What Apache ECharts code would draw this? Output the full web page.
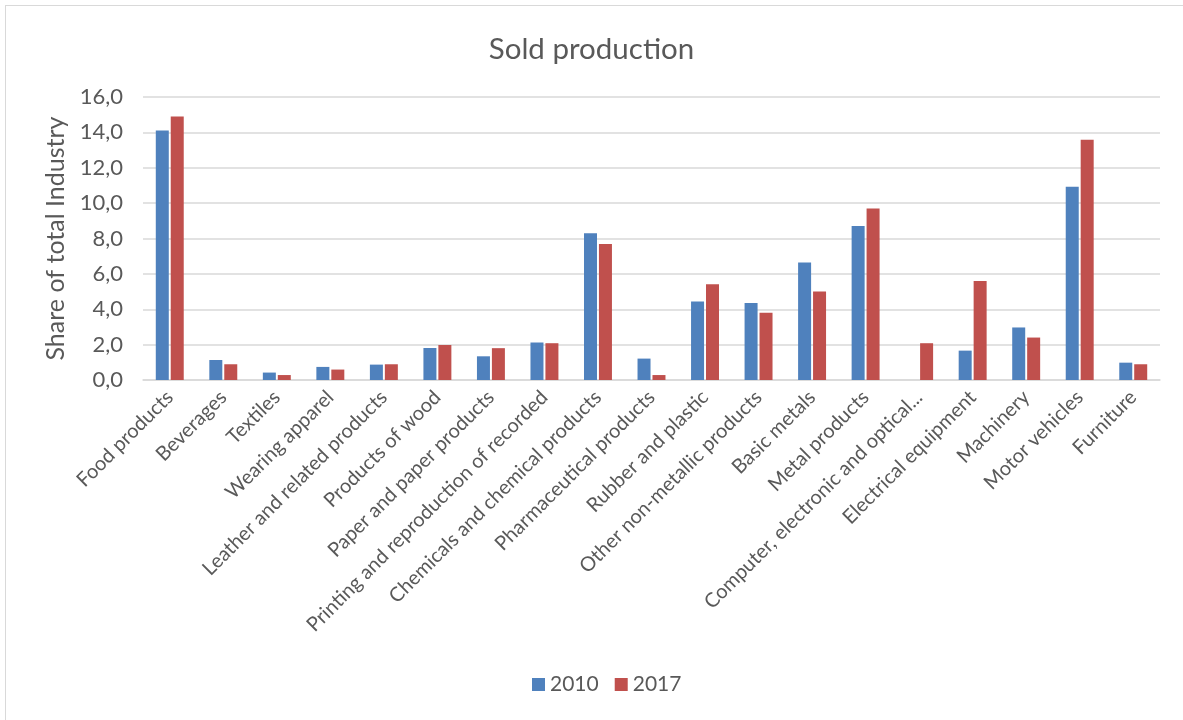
<!DOCTYPE html>
<html>
<head>
<meta charset="utf-8">
<script src="https://cdn.jsdelivr.net/npm/echarts@6/dist/echarts.min.js"></script>
<style>
  html, body { margin: 0; padding: 0; background: #fff; }
  #frame { position: absolute; left: 5px; top: 5px; width: 1200px; height: 730px; border: 1px solid #d9d9d9; box-sizing: border-box; }
  #chart { position: absolute; left: 0; top: 0; width: 1183px; height: 720px; }
</style>
</head>
<body>
<div id="frame"></div>
<div id="chart"></div>
<script>
const categories = [
  'Food products', 'Beverages', 'Textiles', 'Wearing apparel',
  'Leather and related products', 'Products of wood', 'Paper and paper products',
  'Printing and reproduction of recorded', 'Chemicals and chemical products',
  'Pharmaceutical products', 'Rubber and plastic', 'Other non-metallic products',
  'Basic metals', 'Metal products', 'Computer, electronic and optical...',
  'Electrical equipment', 'Machinery', 'Motor vehicles', 'Furniture'
];
const values2010 = [14.1, 1.13, 0.42, 0.74, 0.87, 1.81, 1.34, 2.12, 8.3, 1.21, 4.44, 4.35, 6.65, 8.71, null, 1.66, 2.97, 10.93, 0.98];
const values2017 = [14.9, 0.89, 0.28, 0.59, 0.89, 1.98, 1.8, 2.08, 7.69, 0.28, 5.41, 3.8, 5.01, 9.7, 2.08, 5.6, 2.4, 13.59, 0.89];

const font = 'Lato';
const grey = '#595959';

const chart = echarts.init(document.getElementById('chart'));
chart.setOption({
  animation: false,
  textStyle: { fontFamily: font },
  title: {
    text: 'Sold production',
    left: 'center',
    top: 29,
    textStyle: { fontFamily: font, fontSize: 29.5, fontWeight: 'normal', color: grey }
  },
  legend: {
    bottom: 20,
    left: 527,
    itemWidth: 13,
    itemHeight: 13,
    itemGap: 16,
    icon: 'rect',
    textStyle: { fontFamily: font, fontSize: 21, color: grey }
  },
  grid: { left: 143, right: 23, top: 97, bottom: 340 },
  xAxis: {
    type: 'category',
    data: categories,
    axisLine: { lineStyle: { color: '#d9d9d9', width: 1.5 } },
    axisTick: { show: false },
    axisLabel: {
      interval: 0,
      rotate: 45,
      margin: 14,
      fontFamily: font,
      fontSize: 20,
      color: grey
    }
  },
  yAxis: {
    type: 'value',
    min: 0,
    max: 16,
    interval: 2,
    name: 'Share of total Industry',
    nameLocation: 'middle',
    nameGap: 75,
    nameTextStyle: { fontFamily: font, fontSize: 25, color: grey },
    axisLine: { show: false },
    axisTick: { show: false },
    splitLine: { lineStyle: { color: '#d9d9d9', width: 1.5 } },
    axisLabel: {
      margin: 20,
      fontFamily: font,
      fontSize: 22,
      color: grey,
      formatter: v => v.toFixed(1).replace('.', ',')
    }
  },
  series: [
    {
      name: '2010',
      type: 'bar',
      data: values2010,
      barWidth: 13,
      barGap: '15%',
      itemStyle: { color: '#4f81bd' }
    },
    {
      name: '2017',
      type: 'bar',
      data: values2017,
      barWidth: 13,
      barGap: '15%',
      itemStyle: { color: '#c0504d' }
    }
  ]
});
</script>
</body>
</html>
